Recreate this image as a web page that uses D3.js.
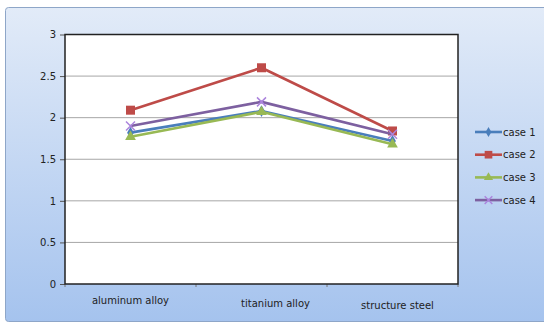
<!DOCTYPE html>
<html>
<head>
<meta charset="utf-8">
<script src="https://cdn.jsdelivr.net/npm/d3@7"></script>
<style>
  html, body { margin: 0; padding: 0; background: #fff; }
  svg { display: block; }
</style>
</head>
<body>
<svg id="chart" width="544" height="325"></svg>
<script>
// Materials along the x axis
const categories = ["aluminum alloy", "titanium alloy", "structure steel"];
// One value per material for each load case
const case1 = [1.82, 2.08, 1.72];
const case2 = [2.09, 2.60, 1.84];
const case3 = [1.77, 2.07, 1.68];
const case4 = [1.90, 2.19, 1.80];
const seriesNames = ["case 1", "case 2", "case 3", "case 4"];
const yTicks = [0, 0.5, 1, 1.5, 2, 2.5, 3];

const series = [
  { name: seriesNames[0], values: case1, color: "#4a7ebb", marker: "diamond" },
  { name: seriesNames[1], values: case2, color: "#be4b48", marker: "square" },
  { name: seriesNames[2], values: case3, color: "#98b954", marker: "triangle" },
  { name: seriesNames[3], values: case4, color: "#7d60a0", marker: "x" }
];

const svg = d3.select("#chart");
const font = "'DejaVu Sans', Verdana, sans-serif";

// Chart area background with a soft blue gradient
const defs = svg.append("defs");
const grad = defs.append("linearGradient").attr("id", "bg").attr("x1", 0).attr("y1", 0).attr("x2", 0).attr("y2", 1);
grad.append("stop").attr("offset", "0%").attr("stop-color", "#e2ebf8");
grad.append("stop").attr("offset", "100%").attr("stop-color", "#a5c3ee");

svg.append("rect").attr("x", 0).attr("y", 0).attr("width", 544).attr("height", 325).attr("fill", "#ffffff");
svg.append("rect")
  .attr("x", 5.5).attr("y", 7.5).attr("width", 545).attr("height", 314)
  .attr("rx", 3)
  .attr("fill", "url(#bg)")
  .attr("stroke", "#8ea6c8").attr("stroke-width", 1);

const plot = { left: 65, top: 34.5, right: 458, bottom: 284 };

const x = d3.scaleBand().domain(categories).range([plot.left, plot.right]);
const y = d3.scaleLinear().domain([0, 3]).range([plot.bottom, plot.top]);

// Plot area
svg.append("rect")
  .attr("x", plot.left).attr("y", plot.top)
  .attr("width", plot.right - plot.left).attr("height", plot.bottom - plot.top)
  .attr("fill", "#ffffff");

// Horizontal gridlines
svg.append("g").selectAll("line").data(yTicks.filter(t => t > 0 && t < 3)).join("line")
  .attr("x1", plot.left).attr("x2", plot.right)
  .attr("y1", d => y(d)).attr("y2", d => y(d))
  .attr("stroke", "#a6a6a6").attr("stroke-width", 1);

// Y axis
const yAxis = svg.append("g")
  .attr("transform", `translate(${plot.left},0)`)
  .call(d3.axisLeft(y).tickValues(yTicks).tickSize(5).tickPadding(4).tickFormat(d3.format("~g")));
yAxis.select(".domain").remove();
yAxis.selectAll(".tick line").attr("stroke", "#555");
yAxis.selectAll("text").attr("font-family", font).attr("font-size", 10).attr("fill", "#222");

// X axis (ticks between categories)
const xAxisG = svg.append("g").attr("transform", `translate(0,${plot.bottom})`);
const boundaries = categories.map(c => x(c)).concat([x.range()[1]]);
xAxisG.selectAll("line").data(boundaries).join("line")
  .attr("x1", d => d).attr("x2", d => d).attr("y1", 0).attr("y2", 3)
  .attr("stroke", "#777");
// Category labels sit slightly staggered under each band
const labelDx = [0, 14, 5];
const labelDy = [19.5, 22.5, 24.5];
xAxisG.selectAll("text").data(categories).join("text")
  .attr("x", (d, i) => x(d) + x.bandwidth() / 2 + labelDx[i])
  .attr("y", (d, i) => labelDy[i])
  .attr("text-anchor", "middle")
  .attr("font-family", font).attr("font-size", 10)
  .attr("fill", "#222")
  .text(d => d);

// Plot border
svg.append("rect")
  .attr("x", plot.left).attr("y", plot.top)
  .attr("width", plot.right - plot.left).attr("height", plot.bottom - plot.top)
  .attr("fill", "none").attr("stroke", "#222").attr("stroke-width", 1.5);

// Marker shapes
function drawMarker(g, type, color, cx, cy, k = 1) {
  if (type === "square") {
    const h = 4.5 * k;
    g.append("rect").attr("x", cx - h).attr("y", cy - h).attr("width", 2 * h).attr("height", 2 * h).attr("fill", color);
  } else if (type === "diamond") {
    g.append("path").attr("d", d3.symbol(d3.symbolDiamond, 40 * k * k)()).attr("transform", `translate(${cx},${cy})`).attr("fill", color);
  } else if (type === "triangle") {
    g.append("path").attr("d", d3.symbol(d3.symbolTriangle, 50 * k * k)()).attr("transform", `translate(${cx},${cy})`).attr("fill", color);
  } else if (type === "x") {
    const h = 4.5 * k;
    g.append("path").attr("d", `M${cx - h},${cy - h}L${cx + h},${cy + h}M${cx - h},${cy + h}L${cx + h},${cy - h}`)
      .attr("stroke", d3.color(color).brighter(0.9)).attr("stroke-width", 1.5).attr("fill", "none");
  }
}

const line = d3.line().x((d, i) => x(categories[i]) + x.bandwidth() / 2).y(d => y(d));

series.forEach(s => {
  const g = svg.append("g");
  g.append("path").datum(s.values).attr("d", line)
    .attr("fill", "none").attr("stroke", s.color).attr("stroke-width", 2.6).attr("stroke-linejoin", "round");
  s.values.forEach((v, i) => drawMarker(g, s.marker, s.color, x(categories[i]) + x.bandwidth() / 2, y(v)));
});

// Legend
const legend = svg.append("g");
series.forEach((s, i) => {
  const ly = 132 + i * 22.7;
  const g = legend.append("g");
  g.append("line").attr("x1", 475).attr("x2", 502).attr("y1", ly).attr("y2", ly)
    .attr("stroke", s.color).attr("stroke-width", 2.6);
  drawMarker(g, s.marker, s.color, 488.5, ly, 0.85);
  g.append("text").attr("x", 503).attr("y", ly + 3.5)
    .attr("font-family", font).attr("font-size", 10).attr("fill", "#222")
    .text(s.name);
});
</script>
</body>
</html>
